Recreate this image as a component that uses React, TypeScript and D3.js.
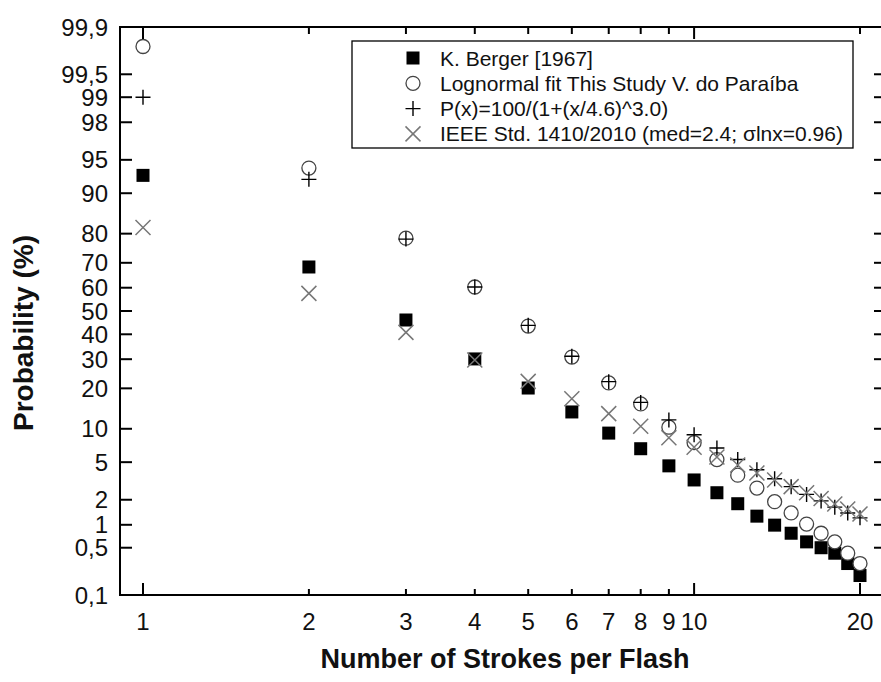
import React from 'react';
import * as d3 from 'd3';

// number of strokes per flash
const strokes = [1, 2, 3, 4, 5, 6, 7, 8, 9, 10, 11, 12, 13, 14, 15, 16, 17, 18, 19, 20];

// probability (%) of at least n strokes
const berger = [93.0, 68.4, 46.1, 30.1, 20.1, 13.6, 9.2, 6.7, 4.6, 3.3, 2.4, 1.8, 1.28, 0.99, 0.78, 0.6, 0.5, 0.42, 0.3, 0.2];
const lognormalFit = [99.8, 94.0, 78.6, 60.3, 43.5, 30.8, 21.7, 15.6, 10.3, 7.6, 5.3, 3.7, 2.7, 1.9, 1.4, 1.02, 0.78, 0.6, 0.42, 0.3];
const powerFit = [99.0, 92.4, 78.3, 60.3, 43.8, 31.1, 22.1, 16.0, 11.8, 8.9, 6.8, 5.3, 4.2, 3.4, 2.8, 2.3, 1.94, 1.64, 1.4, 1.22];
const ieee = [81.8, 57.6, 40.8, 29.7, 22.2, 17.0, 13.2, 10.5, 8.4, 6.9, 5.6, 4.7, 3.9, 3.3, 2.8, 2.4, 2.07, 1.79, 1.56, 1.36];

const yTicks = [0.1, 0.5, 1, 2, 5, 10, 20, 30, 40, 50, 60, 70, 80, 90, 95, 98, 99, 99.5, 99.9];
const xTicks = [1, 2, 3, 4, 5, 6, 7, 8, 9, 10, 20];
const xMajor = [1, 10];

const legendLabels = [
  'K. Berger [1967]',
  'Lognormal fit This Study V. do Paraíba',
  'P(x)=100/(1+(x/4.6)^3.0)',
  'IEEE Std. 1410/2010 (med=2.4; σlnx=0.96)',
];

// inverse of the standard normal cdf (Acklam)
function probit(p: number): number {
  const a = [-39.69683028665376, 220.9460984245205, -275.9285104469687, 138.357751867269, -30.66479806614716, 2.506628277459239];
  const b = [-54.47609879822406, 161.5858368580409, -155.6989798598866, 66.80131188771972, -13.28068155288572];
  const c = [-0.007784894002430293, -0.3223964580411365, -2.400758277161838, -2.549732539343734, 4.374664141464968, 2.938163982698783];
  const d = [0.007784695709041462, 0.3224671290700398, 2.445134137142996, 3.754408661907416];
  const pl = 0.02425;
  if (p < pl) {
    const q = Math.sqrt(-2 * Math.log(p));
    return (((((c[0] * q + c[1]) * q + c[2]) * q + c[3]) * q + c[4]) * q + c[5]) / ((((d[0] * q + d[1]) * q + d[2]) * q + d[3]) * q + 1);
  }
  if (p > 1 - pl) {
    const q = Math.sqrt(-2 * Math.log(1 - p));
    return -(((((c[0] * q + c[1]) * q + c[2]) * q + c[3]) * q + c[4]) * q + c[5]) / ((((d[0] * q + d[1]) * q + d[2]) * q + d[3]) * q + 1);
  }
  const q = p - 0.5;
  const r = q * q;
  return ((((((a[0] * r + a[1]) * r + a[2]) * r + a[3]) * r + a[4]) * r + a[5]) * q) / (((((b[0] * r + b[1]) * r + b[2]) * r + b[3]) * r + b[4]) * r + 1);
}

const W = 881;
const H = 682;
const left = 120;
const right = 886;
const top = 27;
const bottom = 595;

const x = d3.scaleLog().domain([1, 20]).range([143, 860]);
const z = d3.scaleLinear().domain([probit(0.001), probit(0.999)]).range([bottom, top]);
const y = (p: number) => z(probit(p / 100));

const font = 'Liberation Sans, Arial, sans-serif';
const fmt = (v: number) => String(v).replace('.', ',');

const Square = ({ cx, cy }: { cx: number; cy: number }) => (
  <rect x={cx - 6.5} y={cy - 6.5} width={13} height={13} fill="#000" />
);
const Circle = ({ cx, cy }: { cx: number; cy: number }) => (
  <circle cx={cx} cy={cy} r={7} fill="#fff" stroke="#444" strokeWidth={1.3} />
);
const Plus = ({ cx, cy }: { cx: number; cy: number }) => (
  <path d={`M${cx - 7.5},${cy}H${cx + 7.5}M${cx},${cy - 7.5}V${cy + 7.5}`} stroke="#000" strokeWidth={1.4} />
);
const Cross = ({ cx, cy }: { cx: number; cy: number }) => (
  <path d={`M${cx - 7.5},${cy - 7.5}L${cx + 7.5},${cy + 7.5}M${cx - 7.5},${cy + 7.5}L${cx + 7.5},${cy - 7.5}`} stroke="#777" strokeWidth={1.5} />
);

const series = [
  { values: berger, Mark: Square },
  { values: lognormalFit, Mark: Circle },
  { values: powerFit, Mark: Plus },
  { values: ieee, Mark: Cross },
];

export default function App() {
  return (
    <svg width={W} height={H} style={{ position: 'absolute', left: 0, top: 0, background: '#fff' }} fontFamily={font}>
      <rect width={W} height={H} fill="#fff" />

      {/* markers */}
      {series.map((s, i) => (
        <g key={i}>
          {strokes.map((n, j) => (
            <s.Mark key={j} cx={x(n)} cy={y(s.values[j])} />
          ))}
        </g>
      ))}

      {/* frame */}
      <rect x={left} y={top} width={right - left} height={bottom - top} fill="none" stroke="#000" strokeWidth={2} />

      {/* y ticks, left and right */}
      {yTicks.map((t) => (
        <g key={t}>
          <line x1={left} x2={left + 12} y1={y(t)} y2={y(t)} stroke="#000" strokeWidth={2} />
          <line x1={right - 12} x2={right} y1={y(t)} y2={y(t)} stroke="#000" strokeWidth={2} />
          <text x={108} y={y(t)} dy="0.36em" textAnchor="end" fontSize={24} fill="#111">
            {fmt(t)}
          </text>
        </g>
      ))}

      {/* x ticks, bottom and top */}
      {xTicks.map((t) => {
        const major = xMajor.includes(t);
        return (
          <g key={t}>
            <line x1={x(t)} x2={x(t)} y1={bottom} y2={bottom - (major || t === 20 ? 12 : 6)} stroke="#000" strokeWidth={2} />
            <line x1={x(t)} x2={x(t)} y1={top} y2={top + (major ? 12 : 7)} stroke="#000" strokeWidth={2} />
            <text x={x(t)} y={630} textAnchor="middle" fontSize={24} fill="#111">
              {t}
            </text>
          </g>
        );
      })}

      {/* axis titles */}
      <text x={505} y={668} textAnchor="middle" fontSize={27} fontWeight="bold" fill="#111">
        Number of Strokes per Flash
      </text>
      <text transform="translate(33,333) rotate(-90)" textAnchor="middle" fontSize={28} fontWeight="bold" fill="#111">
        Probability (%)
      </text>

      {/* legend */}
      <rect x={352} y={41} width={501} height={107} fill="#fff" stroke="#000" strokeWidth={1.3} />
      {legendLabels.map((label, i) => {
        const ly = 58 + i * 25.3;
        const Mark = series[i].Mark;
        return (
          <g key={label}>
            <Mark cx={413} cy={ly} />
            <text x={440} y={ly} dy="0.36em" fontSize={21} fill="#111">
              {label}
            </text>
          </g>
        );
      })}
    </svg>
  );
}
